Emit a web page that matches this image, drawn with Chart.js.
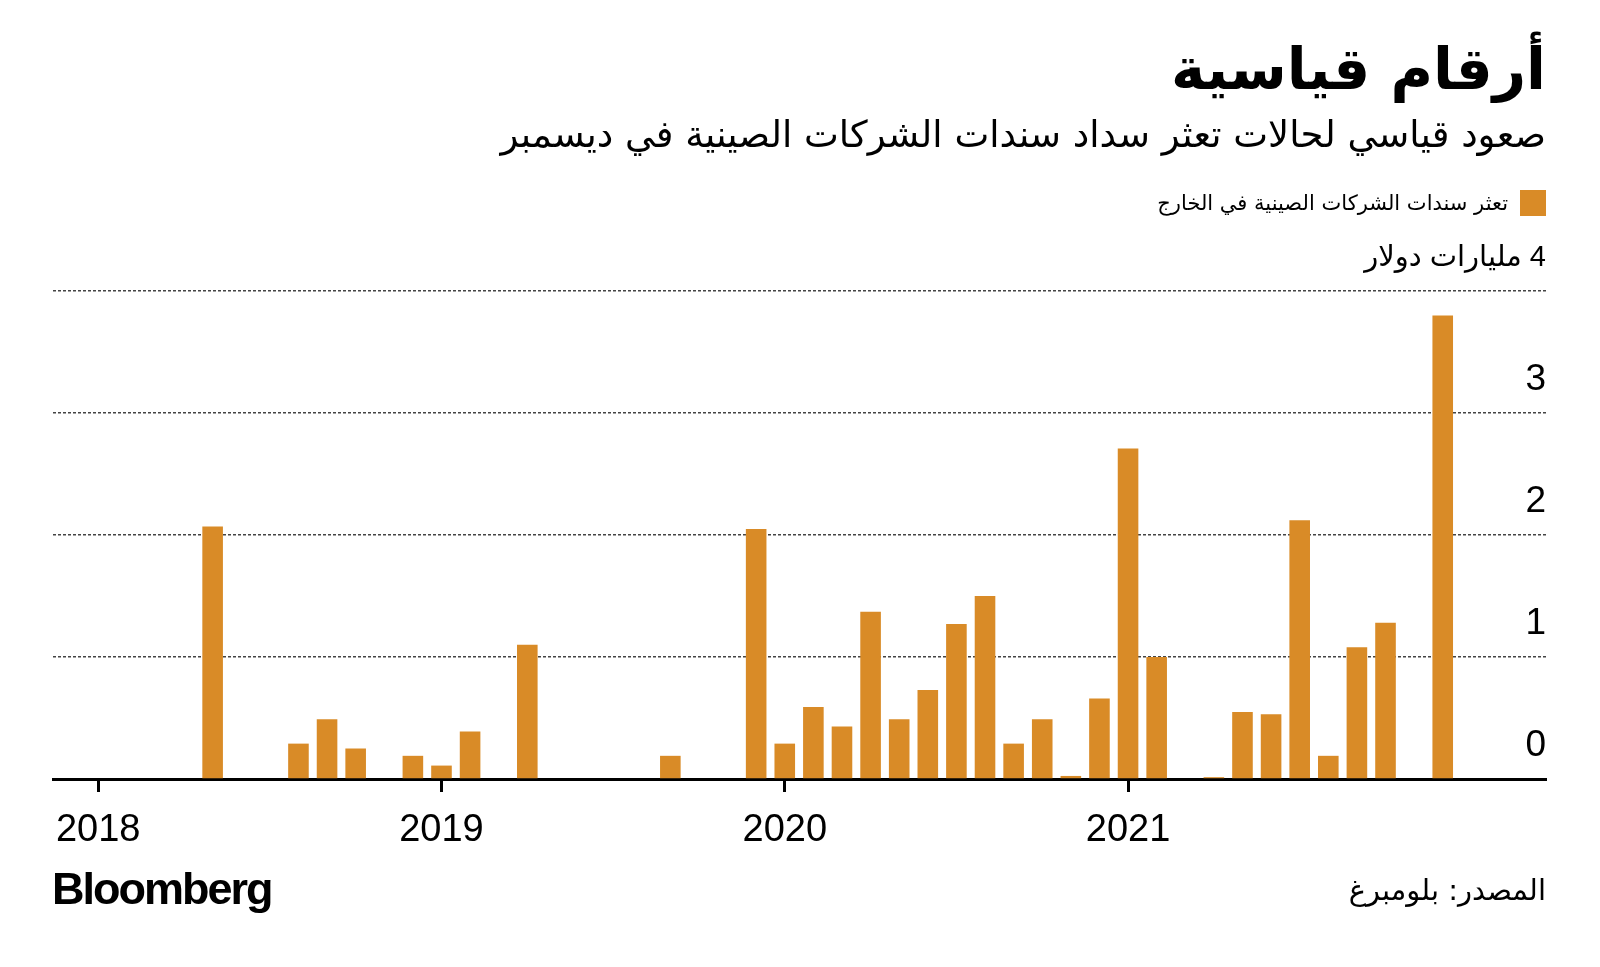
<!DOCTYPE html>
<html lang="ar">
<head>
<meta charset="utf-8">
<style>
  html, body { margin: 0; padding: 0; background: #fff; }
  #page { position: relative; width: 1600px; height: 967px; overflow: hidden; font-family: "DejaVu Sans", sans-serif; color: #000; }
  #chart { position: absolute; left: 0; top: 0; }
  .rtl { position: absolute; right: 54px; direction: rtl; text-align: right; white-space: nowrap; line-height: 1; }
  #title { top: 40px; font-size: 58px; font-weight: bold; }
  #subtitle { top: 116px; font-size: 37px; }
  #legend { top: 190px; font-size: 21px; display: flex; align-items: center; gap: 12px; }
  #legend .sw { width: 26px; height: 26px; background: #D98B27; }
  #source { top: 876px; font-size: 29px; }
  #logo { position: absolute; left: 52px; top: 866px; font-family: "Liberation Sans", Arial, sans-serif; font-weight: bold; font-size: 45px; letter-spacing: -2px; line-height: 1; }
</style>
</head>
<body>
<div id="page">
  <canvas id="chart" width="1600" height="967" dir="rtl"></canvas>
  <div id="title" class="rtl">أرقام قياسية</div>
  <div id="subtitle" class="rtl">صعود قياسي لحالات تعثر سداد سندات الشركات الصينية في ديسمبر</div>
  <div id="legend" class="rtl"><span class="sw"></span><span>تعثر سندات الشركات الصينية في الخارج</span></div>
  <div id="source" class="rtl">المصدر: بلومبرغ</div>
  <div id="logo">Bloomberg</div>
</div>

<script src="https://cdn.jsdelivr.net/npm/chart.js"></script>
<script>
    // Monthly defaults, billions of dollars
    const years = ['2018', '2019', '2020', '2021'];
    const defaults2018 = [0, 0, 0, 0, 2.07, 0, 0, 0.29, 0.49, 0.25, 0, 0.19];
    const defaults2019 = [0.11, 0.39, 0, 1.10, 0, 0, 0, 0, 0.19, 0, 0, 2.05];
    const defaults2020 = [0.29, 0.59, 0.43, 1.37, 0.49, 0.73, 1.27, 1.50, 0.29, 0.49, 0.025, 0.66];
    const defaults2021 = [2.71, 1.00, 0, 0.015, 0.55, 0.53, 2.12, 0.19, 1.08, 1.28, 0, 3.80];
    const yTicks = [0, 1, 2, 3, 4];
    const yUnit = 'مليارات دولار';
    const seriesName = 'تعثر سندات الشركات الصينية في الخارج';

    const barColor = '#D98B27';

    // one point per month, x = month index from Jan 2018
    const values = [].concat(defaults2018, defaults2019, defaults2020, defaults2021);
    const points = values.map((v, i) => ({ x: i, y: v }));
    const yearStarts = years.map((y, i) => i * 12);

    Chart.defaults.font.family = '"Liberation Sans", "DejaVu Sans", sans-serif';
    Chart.defaults.color = '#000';

    const ctx = document.getElementById('chart').getContext('2d');
    new Chart(ctx, {
        type: 'bar',
        data: {
            datasets: [{
                label: seriesName,
                data: points,
                backgroundColor: barColor,
                borderWidth: 0,
                barPercentage: 0.9,
                categoryPercentage: 0.8
            }]
        },
        options: {
            responsive: false,
            animation: false,
            layout: { padding: { left: 53, right: 54, top: 291, bottom: 113 } },
            plugins: {
                legend: { display: false },
                tooltip: { enabled: false }
            },
            scales: {
                x: {
                    type: 'linear',
                    min: -1.58,
                    max: 50.61,
                    offset: false,
                    z: 1,
                    afterBuildTicks: s => { s.ticks = yearStarts.map(v => ({ value: v })); },
                    afterFit: s => { s.height = 75; s.paddingLeft = 0; s.paddingRight = 0; },
                    ticks: {
                        autoSkip: false,
                        maxRotation: 0,
                        padding: 16,
                        font: { size: 38 },
                        callback: v => years[yearStarts.indexOf(v)] || ''
                    },
                    grid: { offset: false, drawOnChartArea: false, tickLength: 13, tickWidth: 3, tickColor: '#000' },
                    border: { display: true, color: '#000', width: 3 }
                },
                y: {
                    position: 'right',
                    min: 0,
                    max: 4,
                    afterBuildTicks: s => { s.ticks = yTicks.map(v => ({ value: v })); },
                    afterFit: s => { s.width = 0; s.paddingTop = 0; s.paddingBottom = 0; },
                    ticks: {
                        mirror: true,
                        padding: 0,
                        labelOffset: -33,
                        font: c => ({ size: c.tick && c.tick.value === 4 ? 29 : 37 }),
                        callback: v => v === 4 ? v + ' ' + yUnit : String(v)
                    },
                    grid: {
                        drawTicks: false,
                        lineWidth: 1.5,
                        color: c => c.tick && c.tick.value === 0 ? 'rgba(0,0,0,0)' : '#444'
                    },
                    border: { display: false, dash: [3, 2] }
                }
            }
        }
    });
</script>
</body>
</html>
